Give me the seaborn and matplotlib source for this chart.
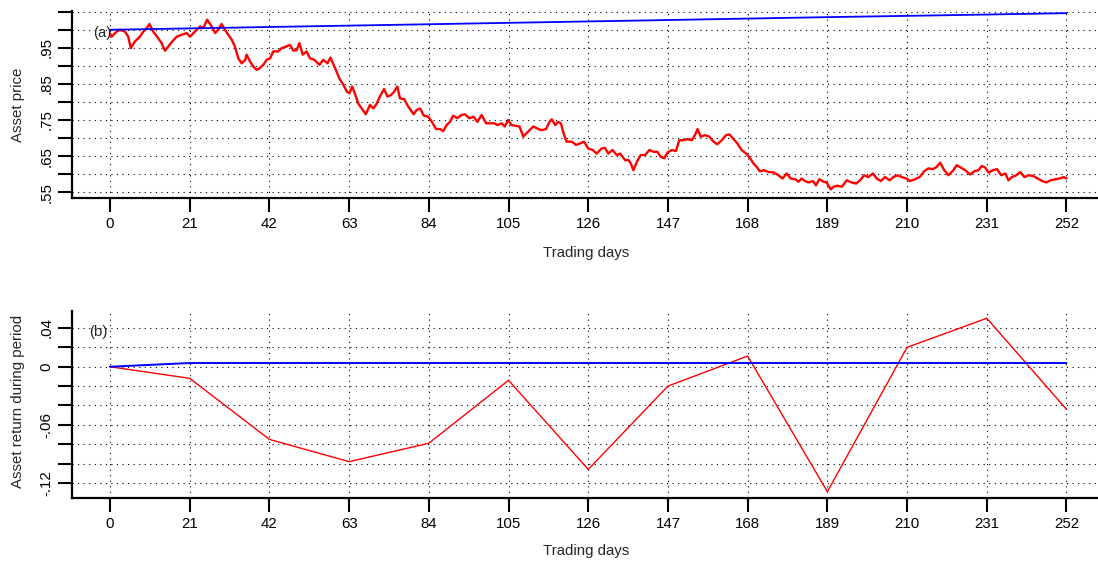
import matplotlib
matplotlib.use("Agg")
import matplotlib.pyplot as plt
import seaborn as sns

# ---------------- data ----------------
period_days = [0, 21, 42, 63, 84, 105, 126, 147, 168, 189, 210, 231, 252]

price_days = [
    0, 0.44, 1.76, 2.6, 3.95, 4.8, 5.5, 6.6, 7.9, 8.8, 9.7, 10.4, 11.4, 12.7, 13.6, 14.5,
    15.4, 16.2, 17.6, 18.9, 20.2, 21.1, 22.4, 23.7, 24.6, 25.6, 26.8, 27.7, 28.5, 29.4,
    30.3, 31.2, 32.1, 32.9, 33.8, 34.7, 35.6, 36.0, 36.9, 37.8, 38.6, 39.5, 40.4, 41.3,
    42.2, 43.0, 44.3, 45.2, 46.5, 47.4, 48.3, 49.2, 49.9, 50.8, 51.8, 52.7, 53.8, 55.2,
    56.2, 57.3, 58.1, 59.3, 60.4, 61.5, 62.4, 63.1, 63.8, 64.5, 65.4, 66.3, 67.4, 68.5,
    69.4, 70.3, 71.1, 72.2, 73.1, 74.0, 74.8, 75.7, 76.4, 77.5, 78.6, 80.0, 80.8, 81.7,
    82.7, 83.9, 84.8, 85.9, 87.0, 87.8, 88.7, 89.6, 90.4, 91.5, 92.6, 93.5, 94.7, 95.8,
    96.8, 97.9, 99.1, 100.1, 101.2, 102.1, 103.2, 104.0, 104.9, 105.8, 106.9, 107.9,
    108.9, 109.6, 110.2, 111.5, 112.9, 113.7, 114.9, 115.8, 116.4, 117.3, 118.1, 118.8,
    119.5, 120.3, 121.7, 122.8, 123.8, 124.9, 126.0, 127.2, 128.2, 129.5, 130.4, 131.3,
    132.4, 133.5, 134.4, 135.7, 136.6, 137.2, 137.9, 138.8, 139.8, 141.0, 142.1, 143.2,
    144.2, 145.1, 146.0, 146.9, 148.0, 149.1, 150.0, 151.1, 152.1, 153.3, 154.2, 154.8,
    155.6, 156.8, 157.9, 159.0, 160.0, 161.2, 162.3, 163.2, 164.3, 165.3, 166.4, 167.6,
    168.6, 169.5, 170.4, 171.2, 172.3, 173.4, 174.8, 176.1, 177.2, 178.3, 179.3, 180.5,
    181.4, 182.2, 183.1, 184.0, 185.2, 186.0, 186.9, 188.0, 188.8, 189.9, 190.6, 191.6,
    192.8, 194.1, 195.4, 196.6, 197.6, 198.7, 199.8, 201.0, 202.0, 203.1, 204.2, 205.4,
    206.4, 207.5, 208.6, 209.8, 210.8, 212.1, 213.3, 214.5, 215.6, 216.8, 217.8, 218.7,
    219.8, 220.9, 222.2, 223.1, 224.2, 225.3, 226.6, 227.7, 228.8, 229.7, 230.6, 231.5,
    232.6, 233.7, 234.8, 235.9, 236.7, 237.6, 238.8, 239.8, 240.9, 242.0, 243.2, 244.4,
    245.6, 246.7, 247.8, 249.1, 250.2, 251.3, 252.0,
]
asset_price = [
    0.990, 0.981, 0.995, 1.000, 0.995, 0.981, 0.949, 0.968, 0.981, 0.995, 1.005, 1.016, 0.995, 0.977, 0.963, 0.942,
    0.954, 0.965, 0.981, 0.986, 0.991, 0.981, 0.995, 1.009, 1.005, 1.028, 1.009, 0.991, 1.000, 1.016,
    1.000, 0.986, 0.972, 0.954, 0.921, 0.907, 0.916, 0.931, 0.912, 0.898, 0.889, 0.894, 0.903, 0.917,
    0.921, 0.940, 0.940, 0.949, 0.954, 0.958, 0.942, 0.944, 0.963, 0.931, 0.940, 0.921, 0.917, 0.903,
    0.917, 0.907, 0.923, 0.894, 0.866, 0.847, 0.829, 0.824, 0.843, 0.824, 0.796, 0.782, 0.766, 0.792,
    0.782, 0.796, 0.815, 0.836, 0.815, 0.819, 0.827, 0.843, 0.810, 0.808, 0.787, 0.766, 0.778, 0.782,
    0.762, 0.759, 0.745, 0.725, 0.725, 0.719, 0.736, 0.745, 0.762, 0.755, 0.764, 0.766, 0.755, 0.759,
    0.745, 0.764, 0.741, 0.741, 0.741, 0.736, 0.741, 0.732, 0.750, 0.736, 0.734, 0.732,
    0.704, 0.712, 0.718, 0.732, 0.725, 0.722, 0.725, 0.745, 0.752, 0.736, 0.745, 0.741,
    0.713, 0.690, 0.690, 0.681, 0.685, 0.690, 0.671, 0.667, 0.657, 0.671, 0.673, 0.657,
    0.667, 0.653, 0.657, 0.639, 0.639, 0.630, 0.611, 0.634, 0.653, 0.653, 0.667, 0.662,
    0.662, 0.648, 0.644, 0.660, 0.667, 0.664, 0.694, 0.694, 0.697, 0.694, 0.710, 0.725,
    0.704, 0.708, 0.704, 0.690, 0.683, 0.694, 0.708, 0.710, 0.697, 0.685, 0.667, 0.657,
    0.645, 0.630, 0.620, 0.608, 0.611, 0.606, 0.605, 0.597, 0.588, 0.602, 0.588, 0.586,
    0.579, 0.588, 0.581, 0.577, 0.581, 0.569, 0.586, 0.579, 0.577, 0.558, 0.565, 0.568,
    0.565, 0.583, 0.577, 0.574, 0.583, 0.597, 0.592, 0.602, 0.588, 0.581, 0.592, 0.583,
    0.592, 0.597, 0.592, 0.588, 0.581, 0.586, 0.592, 0.608, 0.616, 0.614, 0.620, 0.632,
    0.611, 0.597, 0.611, 0.625, 0.618, 0.611, 0.599, 0.608, 0.611, 0.623, 0.618, 0.604,
    0.611, 0.614, 0.597, 0.602, 0.583, 0.592, 0.597, 0.606, 0.592, 0.597, 0.595, 0.588,
    0.581, 0.577, 0.583, 0.586, 0.588, 0.592, 0.588,
]
bench_price = [1.000, 1.0038, 1.0077, 1.0115, 1.0153, 1.0192, 1.0231, 1.0270,
               1.0310, 1.0350, 1.0385, 1.0422, 1.0460]

period_return = [0.0, -0.012, -0.075, -0.098, -0.079, -0.014, -0.106, -0.020,
                 0.011, -0.129, 0.020, 0.050, -0.044]
bench_return = [0.0, 0.0038, 0.0038, 0.0038, 0.0038, 0.0038, 0.0038, 0.0038,
                0.0038, 0.0038, 0.0038, 0.0038, 0.0038]

day_ticks = period_days
day_labels = [str(d) for d in period_days]
price_ticks = [0.55, 0.60, 0.65, 0.70, 0.75, 0.80, 0.85, 0.90, 0.95, 1.00, 1.05]
price_labels = [".55", "", ".65", "", ".75", "", ".85", "", ".95", "", ""]
return_ticks = [0.04, 0.02, 0.0, -0.02, -0.04, -0.06, -0.08, -0.10, -0.12]
return_labels = [".04", "", "0", "", "", "-.06", "", "", "-.12"]

# ---------------- style ----------------
sns.set_style("white")
plt.rcParams["font.family"] = ["Liberation Sans", "DejaVu Sans"]
FS = 10.8

W, H = 1098, 561
fig = plt.figure(figsize=(W / 100, H / 100), dpi=100)


def px_axes(left, top, right, bottom):
    return fig.add_axes([left / W, 1 - bottom / H, (right - left) / W, (bottom - top) / H])


ax1 = px_axes(72, 11, 1098, 198)
ax2 = px_axes(72, 311, 1098, 498)

grid_style = dict(color="black", linestyle=(0, (1, 4)), linewidth=0.8)

for ax in (ax1, ax2):
    ax.set_facecolor("white")
    for s in ("top", "right"):
        ax.spines[s].set_visible(False)
    for s in ("left", "bottom"):
        ax.spines[s].set_visible(True)
        ax.spines[s].set_linewidth(1.6)
        ax.spines[s].set_color("black")
    ax.set_xlim(-10.0, 260.3)
    ax.set_xticks(day_ticks)
    ax.set_xticklabels(day_labels, fontsize=FS)
    ax.tick_params(axis="both", direction="out", length=10, width=1.5, color="black",
                   labelcolor="black", pad=3.5, left=True, bottom=True)
    ax.grid(True, **grid_style)
    ax.set_axisbelow(True)

# top panel
sns.lineplot(x=price_days, y=asset_price, ax=ax1, color="#ff0000", linewidth=1.7,
             estimator=None, sort=False)
sns.lineplot(x=period_days, y=bench_price, ax=ax1, color="#0000ff", linewidth=1.3,
             estimator=None, sort=False)
ax1.set_ylim(0.534, 1.052)
ax1.set_yticks(price_ticks)
ax1.set_yticklabels(price_labels, fontsize=FS, rotation=90, va="center")
ax1.text(-1.95, 0.992, "(a)", fontsize=FS, ha="center", va="center")

# bottom panel
sns.lineplot(x=period_days, y=period_return, ax=ax2, color="#ff0000", linewidth=1.0,
             estimator=None, sort=False)
sns.lineplot(x=period_days, y=bench_return, ax=ax2, color="#0000ff", linewidth=1.4,
             estimator=None, sort=False)
ax2.set_ylim(-0.1355, 0.0575)
ax2.set_yticks(return_ticks)
ax2.set_yticklabels(return_labels, fontsize=FS, rotation=90, va="center")
ax2.text(-3.0, 0.036, "(b)", fontsize=FS, ha="center", va="center")

for ax in (ax1, ax2):
    ax.set_xlabel("")
    ax.set_ylabel("")

fig.text(18 / W, 1 - 105 / H, "Asset price", rotation=90, ha="center", va="center", fontsize=FS)
fig.text(18 / W, 1 - 401 / H, "Asset return during period", rotation=90, ha="center",
         va="center", fontsize=FS)
fig.text(586 / W, 1 - 253 / H, "Trading days", ha="center", va="center", fontsize=FS)
fig.text(586 / W, 1 - 551 / H, "Trading days", ha="center", va="center", fontsize=FS)

fig.savefig("out.png", dpi=100, facecolor="white")
